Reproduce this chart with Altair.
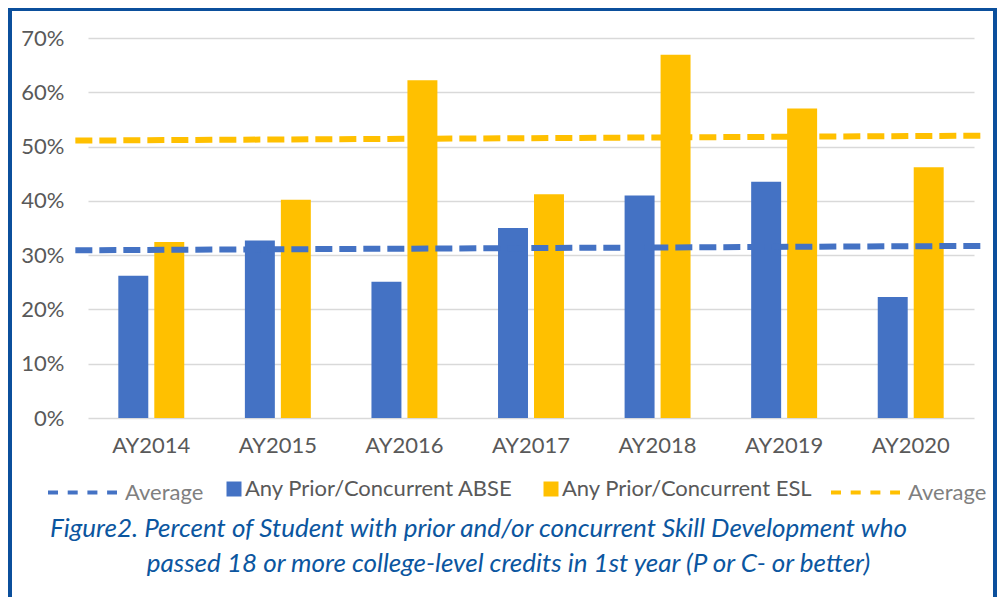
import altair as alt
import pandas as pd

years = ["AY2014", "AY2015", "AY2016", "AY2017", "AY2018", "AY2019", "AY2020"]
series_names = ["Any Prior/Concurrent ABSE", "Any Prior/Concurrent ESL"]
abse = [26.2, 32.7, 25.1, 35.0, 41.0, 43.5, 22.3]
esl = [32.4, 40.2, 62.2, 41.2, 66.9, 57.0, 46.2]
# "Average" dashed lines: value at the start and end of the category span
avg_pos = [-0.1, 7.05]
avg_abse = [30.9, 31.7]
avg_esl = [51.1, 52.0]
y_ticks = [0, 0.1, 0.2, 0.3, 0.4, 0.5, 0.6, 0.7]
caption_lines = [
    "Figure2. Percent of Student with prior and/or concurrent Skill Development who",
    "passed 18 or more college-level credits in 1st year (P or C- or better)",
]

BLUE = "#4472C4"
GOLD = "#FFC000"
TXT = "#595959"
FONT = "Lato"
FS = 22

rows = []
for i, yr in enumerate(years):
    rows.append({"year": yr, "series": series_names[0], "value": abse[i] / 100})
    rows.append({"year": yr, "series": series_names[1], "value": esl[i] / 100})
bar_df = pd.DataFrame(rows)

avgA_df = pd.DataFrame({"pos": avg_pos, "value": [v / 100 for v in avg_abse], "label": ["Average"] * 2})
avgE_df = pd.DataFrame({"pos": avg_pos, "value": [v / 100 for v in avg_esl], "label": ["Average"] * 2})

yscale = alt.Scale(domain=[0, 0.7], nice=False)

bars = alt.Chart(bar_df).mark_bar().encode(
    x=alt.X("year:N", sort=years,
            scale=alt.Scale(paddingInner=0.479, paddingOuter=0.2395),
            axis=alt.Axis(title=None, labelAngle=0, ticks=False, domain=False, grid=False,
                          labelPadding=17, labelFontSize=FS, labelColor=TXT, labelFont=FONT)),
    xOffset=alt.XOffset("series:N", sort=series_names,
                        scale=alt.Scale(paddingInner=0.167, paddingOuter=0)),
    y=alt.Y("value:Q", scale=yscale,
            axis=alt.Axis(title=None, format=".0%", values=y_ticks, ticks=False, domain=False,
                          grid=True, gridColor="#D9D9D9", gridWidth=1.5,
                          labelPadding=24, labelFontSize=FS, labelColor=TXT, labelFont=FONT)),
    fill=alt.Fill("series:N", sort=series_names,
                  scale=alt.Scale(domain=series_names, range=[BLUE, GOLD]),
                  legend=alt.Legend(title=None, orient="none", legendX=135, legendY=440,
                                    direction="horizontal", columns=2, columnPadding=26,
                                    symbolType="square", symbolSize=225, symbolStrokeWidth=0,
                                    labelFont=FONT, labelFontSize=FS, labelColor=TXT,
                                    labelOffset=0, padding=0, labelLimit=400)),
)


def avg_line(df, color, lx):
    return alt.Chart(df).mark_line(strokeWidth=6, strokeDash=[17, 7], strokeCap="butt").encode(
        x=alt.X("pos:Q", scale=alt.Scale(domain=[0, 7], nice=False, zero=False), axis=None),
        y=alt.Y("value:Q", scale=yscale),
        color=alt.Color("label:N", scale=alt.Scale(domain=["Average"], range=[color]),
                        legend=alt.Legend(title=None, orient="none", legendX=lx, legendY=418,
                                          symbolType="stroke", symbolSize=4761,
                                          symbolStrokeWidth=4, symbolDash=[10, 9.7],
                                          labelFont=FONT, labelFontSize=FS,
                                          labelColor="#7F7F7F", labelOffset=6, padding=0)),
    )


line_a = avg_line(avgA_df, BLUE, -42)
line_e = avg_line(avgE_df, GOLD, 741)

CAP_FS = 26
cap1 = alt.Chart(pd.DataFrame({"t": [caption_lines[0]]})).mark_text(
    font=FONT, fontSize=CAP_FS, fontStyle="italic", color="#0B56A0", align="center", baseline="alphabetic"
).encode(text="t:N", x=alt.value(390.5), y=alt.value(499))
cap2 = alt.Chart(pd.DataFrame({"t": [caption_lines[1]]})).mark_text(
    font=FONT, fontSize=CAP_FS, fontStyle="italic", color="#0B56A0", align="center", baseline="alphabetic"
).encode(text="t:N", x=alt.value(420.5), y=alt.value(534))

border = alt.Chart(pd.DataFrame({"a": [0]})).mark_rect(
    fill="transparent", stroke="#0B4F9C", strokeWidth=4
).encode(x=alt.value(-78), x2=alt.value(907), y=alt.value(-29), y2=alt.value(600))

chart = alt.layer(bars, line_a, line_e, cap1, cap2, border).resolve_scale(
    x="independent", color="independent"
).resolve_legend(color="independent").properties(
    width=886, height=380,
    autosize=alt.AutoSizeParams(type="none"),
    padding={"left": 80, "top": 30, "right": 23, "bottom": 179},
    background="white",
).configure_view(strokeWidth=0)

chart.save("out.html", embed_options={"renderer": "svg", "actions": False})
